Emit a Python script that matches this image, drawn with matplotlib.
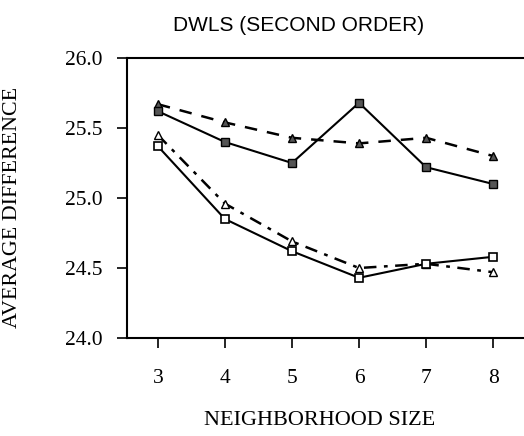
import matplotlib
matplotlib.use("Agg")
import matplotlib.pyplot as plt

# Neighborhood sizes and average differences for the four DWLS runs
sizes = [3, 4, 5, 6, 7, 8]
solid_filled = [25.62, 25.40, 25.25, 25.68, 25.22, 25.10]
dashed_tri = [25.67, 25.54, 25.43, 25.39, 25.43, 25.30]
solid_open = [25.37, 24.85, 24.62, 24.43, 24.53, 24.58]
dashdot_tri = [25.45, 24.96, 24.69, 24.50, 24.53, 24.47]

y_ticks = [24.0, 24.5, 25.0, 25.5, 26.0]
y_tick_labels = ["24.0", "24.5", "25.0", "25.5", "26.0"]

fig = plt.figure(figsize=(5.24, 4.36), dpi=100)
ax = fig.add_axes([127 / 524, 1 - 338 / 436, (524 - 127) / 524, 280 / 436])

serif = "Liberation Serif"
sans = "Liberation Sans"

ax.plot(sizes, dashed_tri, color="black", lw=1.8, dashes=(5, 4),
        marker="^", ms=6, mfc="#555555", mec="black", mew=1.0, zorder=3)
ax.plot(sizes, solid_filled, color="black", lw=1.5, ls="-",
        marker="s", ms=5.5, mfc="#555555", mec="black", mew=1.0, zorder=4)
ax.plot(sizes, dashdot_tri, color="black", lw=1.8, dashes=(5, 3, 1.5, 3),
        marker="^", ms=6, mfc="white", mec="black", mew=1.0, zorder=3)
ax.plot(sizes, solid_open, color="black", lw=1.5, ls="-",
        marker="s", ms=5.5, mfc="white", mec="black", mew=1.2, zorder=4)

ax.set_xlim(2.54, 8.46)
ax.set_ylim(24.0, 26.0)
ax.set_xticks(sizes)
ax.set_xticklabels([str(s) for s in sizes], fontfamily=serif, fontsize=15.5)
ax.set_yticks(y_ticks)
ax.set_yticklabels(y_tick_labels, fontfamily=serif, fontsize=15.5)

ax.spines["right"].set_visible(False)
for side in ("left", "top", "bottom"):
    ax.spines[side].set_linewidth(1.5)
ax.tick_params(direction="out", length=7.5, width=1.2)
ax.tick_params(axis="y", pad=10)
ax.tick_params(axis="x", pad=15)

ax.set_title("DWLS (SECOND ORDER)", fontfamily=sans, fontsize=15, pad=19.5,
             x=(299 - 127) / 397)
ax.set_xlabel("NEIGHBORHOOD SIZE", fontfamily=serif, fontsize=16)
ax.xaxis.set_label_coords((320 - 127) / 397, -0.262)
ax.set_ylabel("AVERAGE DIFFERENCE", fontfamily=serif, fontsize=15.8)
ax.yaxis.set_label_coords(-(127 - 22) / 397, (338 - 207) / 280)

fig.savefig("out.png", dpi=100)
